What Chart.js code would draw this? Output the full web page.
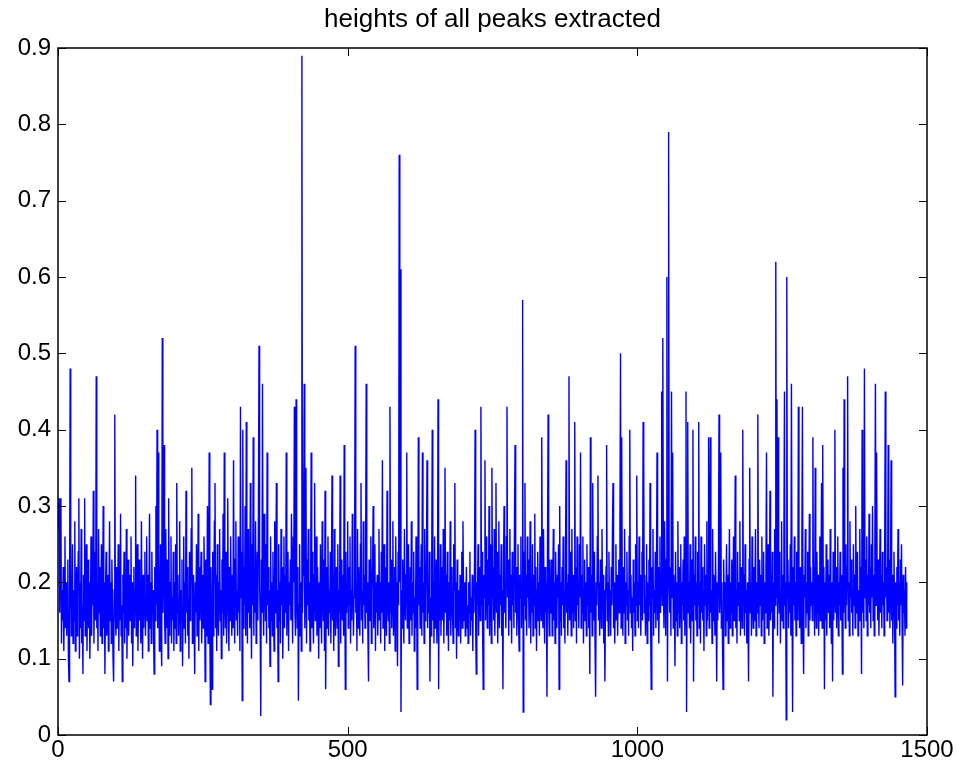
<!DOCTYPE html>
<html>
<head>
<meta charset="utf-8">
<title>heights of all peaks extracted</title>
<script src="https://cdn.jsdelivr.net/npm/chart.js@4.4.1/dist/chart.umd.min.js"></script>
<style>
    body { margin: 0; background: #fff; }
    canvas { display: block; }
</style>
</head>
<body>
<canvas id="peakChart" width="957" height="769"></canvas>
<script>
// peak heights in order (sample 1 .. 1465)
const heights = [
    .27,.31,.16,.24,.31,.12,.19,.15,.22,.11, .17,.26,.14,.2,.13,.18,.23,.1,.07,.16,
    .48,.21,.13,.17,.25,.12,.19,.15,.28,.11, .16,.22,.13,.18,.24,.31,.1,.2,.14,.27,
    .12,.17,.08,.21,.15,.31,.13,.19,.25,.11,
    .18,.23,.14,.2,.1,.16,.26,.13,.21,.17, .32,.12,.19,.24,.15,.47,.14,.2,.11,.27,
    .16,.22,.13,.18,.25,.12,.17,.3,.14,.2, .08,.19,.24,.13,.16,.21,.11,.18,.28,.15,
    .2,.12,.23,.17,.1,.07,.19,.42,.16,.13,
    .22,.14,.18,.25,.11,.2,.15,.29,.13,.17, .07,.21,.16,.24,.12,.19,.14,.27,.1,.18,
    .23,.13,.17,.21,.15,.26,.12,.2,.09,.16, .22,.14,.19,.34,.13,.18,.25,.11,.17,.23,
    .15,.2,.12,.28,.16,.1,.21,.14,.19,.24,
    .13,.18,.26,.15,.21,.11,.17,.29,.14,.2, .12,.24,.16,.19,.13,.08,.22,.15,.3,.17,
    .40,.14,.37,.2,.11,.18,.25,.13,.09,.52, .16,.21,.38,.15,.12,.27,.19,.14,.23,.1,
    .31,.17,.13,.2,.26,.12,.18,.15,.24,.11,
    .2,.14,.25,.12,.33,.16,.21,.13,.18,.28, .11,.19,.15,.23,.09,.17,.26,.14,.2,.12,
    .32,.16,.22,.13,.18,.1,.24,.15,.19,.27, .35,.12,.17,.21,.14,.08,.2,.16,.25,.13,
    .18,.29,.11,.22,.15,.19,.24,.12,.17,.21,
    .14,.26,.19,.07,.23,.13,.18,.3,.12,.2, .37,.16,.04,.22,.15,.06,.24,.13,.19,.28,
    .33,.14,.21,.11,.25,.17,.13,.2,.27,.15, .19,.1,.23,.16,.29,.13,.37,.18,.14,.24,
    .12,.2,.31,.16,.11,.22,.15,.26,.18,.13,
    .21,.14,.36,.17,.12,.23,.28,.15,.19,.13, .26,.16,.2,.11,.43,.18,.24,.045,.4,.14,
    .22,.17,.3,.13,.41,.19,.12,.27,.16,.21, .14,.33,.2,.1,.25,.17,.39,.13,.22,.16,
    .28,.12,.19,.24,.15,.3,.51,.2,.14,.025,
    .23,.16,.46,.18,.13,.29,.21,.15,.25,.12, .37,.17,.22,.14,.19,.09,.26,.15,.2,.13,
    .24,.18,.11,.28,.16,.21,.33,.14,.19,.07, .25,.15,.2,.12,.27,.17,.22,.1,.18,.26,
    .14,.21,.16,.37,.13,.19,.24,.11,.2,.17,
    .23,.15,.29,.18,.12,.26,.2,.43,.16,.13, .44,.19,.14,.22,.045,.17,.25,.13,.2,.11,
    .89,.16,.21,.29,.46,.14,.19,.35,.12,.23, .17,.27,.15,.2,.11,.18,.37,.14,.24,.16,
    .12,.21,.33,.15,.19,.26,.13,.22,.17,.1,
    .2,.14,.25,.17,.12,.28,.19,.15,.23,.11, .32,.06,.18,.22,.14,.26,.13,.19,.16,.24,
    .12,.2,.34,.15,.21,.11,.27,.17,.13,.22, .18,.14,.25,.09,.19,.16,.34,.12,.23,.17,
    .15,.21,.13,.38,.2,.06,.24,.16,.19,.28,
    .14,.22,.17,.26,.12,.19,.15,.29,.21,.13, .18,.24,.51,.16,.2,.11,.27,.14,.22,.17,
    .13,.25,.33,.15,.19,.12,.28,.17,.21,.14, .24,.46,.16,.2,.13,.07,.23,.18,.15,.26,
    .12,.19,.22,.3,.14,.17,.25,.11,.2,.16,
    .21,.13,.18,.27,.15,.2,.12,.24,.16,.36, .14,.19,.25,.11,.22,.17,.13,.32,.18,.15,
    .2,.12,.43,.16,.23,.14,.19,.28,.13,.17, .22,.11,.26,.15,.2,.09,.24,.17,.76,.2,
    .61,.03,.19,.14,.23,.16,.12,.27,.18,.15,
    .21,.37,.14,.19,.25,.12,.17,.22,.15,.28, .13,.2,.16,.24,.11,.18,.14,.26,.2,.06,
    .12,.39,.17,.22,.14,.19,.25,.13,.37,.16, .2,.12,.27,.15,.18,.23,.36,.14,.19,.16,
    .24,.07,.18,.13,.21,.4,.15,.2,.12,.26,
    .14,.19,.23,.12,.17,.44,.06,.2,.15,.25, .13,.18,.22,.15,.27,.12,.19,.35,.16,.21,
    .13,.24,.17,.11,.2,.15,.28,.13,.18,.22, .16,.12,.25,.19,.33,.14,.2,.1,.23,.16,
    .13,.19,.15,.21,.12,.17,.24,.14,.28,.18,
    .15,.2,.13,.18,.22,.14,.17,.12,.2,.16, .24,.13,.18,.15,.21,.11,.19,.16,.23,.4,
    .14,.08,.2,.17,.25,.13,.19,.22,.15,.43, .17,.24,.13,.06,.21,.18,.36,.15,.26,.2,
    .14,.23,.17,.3,.13,.19,.25,.12,.35,.18,
    .22,.15,.27,.13,.2,.33,.16,.24,.12,.19, .28,.14,.21,.17,.25,.13,.19,.06,.22,.3,
    .16,.2,.14,.26,.43,.18,.23,.13,.19,.27, .15,.21,.12,.24,.17,.2,.14,.29,.38,.16,
    .22,.13,.19,.25,.15,.11,.21,.18,.26,.14,
    .2,.57,.03,.24,.17,.33,.15,.21,.13,.26, .18,.23,.14,.19,.28,.12,.2,.16,.25,.13,
    .21,.17,.29,.14,.22,.11,.19,.24,.15,.2, .13,.26,.18,.15,.39,.21,.14,.27,.17,.12,
    .22,.16,.2,.05,.25,.42,.17,.13,.23,.19,
    .16,.23,.13,.19,.27,.15,.2,.12,.24,.17, .14,.21,.18,.25,.06,.3,.15,.2,.13,.22,
    .17,.26,.14,.19,.12,.23,.36,.16,.2,.13, .21,.47,.15,.24,.18,.13,.27,.16,.21,.14,
    .19,.41,.15,.22,.12,.26,.17,.2,.14,.25,
    .18,.37,.14,.21,.16,.26,.12,.19,.23,.15, .2,.13,.25,.17,.22,.14,.19,.08,.39,.16,
    .21,.13,.33,.18,.15,.24,.12,.05,.2,.17, .26,.34,.15,.2,.13,.23,.18,.14,.27,.16,
    .21,.12,.19,.07,.17,.22,.38,.15,.2,.13,
    .24,.16,.19,.13,.22,.17,.26,.33,.14,.2, .12,.18,.25,.15,.21,.13,.19,.23,.16,.28,
    .5,.14,.39,.18,.13,.22,.16,.27,.12,.2, .17,.24,.15,.19,.13,.26,.4,.16,.21,.14,
    .18,.11,.23,.16,.2,.13,.25,.17,.34,.15,
    .2,.14,.26,.17,.21,.13,.19,.24,.15,.41, .36,.16,.21,.13,.18,.25,.12,.2,.15,.23,
    .17,.33,.14,.06,.22,.18,.27,.13,.19,.16, .24,.14,.2,.37,.15,.22,.12,.18,.26,.16,
    .21,.45,.17,.52,.19,.14,.28,.2,.13,.23,
    .6,.07,.25,.79,.2,.16,.22,.13,.45,.18, .37,.14,.21,.17,.09,.24,.15,.2,.13,.28,
    .16,.22,.14,.19,.25,.12,.2,.17,.23,.15, .26,.13,.19,.45,.03,.22,.41,.16,.2,.14,
    .25,.12,.18,.23,.15,.4,.07,.21,.17,.26,
    .15,.2,.13,.24,.17,.41,.14,.2,.12,.26, .16,.22,.15,.19,.11,.25,.17,.21,.13,.28,
    .15,.2,.39,.14,.23,.39,.16,.19,.12,.27, .15,.21,.18,.13,.24,.17,.07,.2,.15,.22,
    .42,.16,.19,.37,.14,.2,.12,.06,.23,.17,
    .2,.13,.18,.25,.15,.21,.12,.19,.27,.14, .2,.16,.23,.13,.18,.26,.15,.21,.34,.14,
    .19,.12,.24,.17,.2,.15,.28,.13,.22,.18, .14,.4,.17,.21,.13,.25,.16,.19,.12,.2,
    .15,.07,.23,.35,.16,.2,.13,.26,.18,.14,
    .22,.15,.19,.27,.13,.2,.16,.42,.18,.14, .23,.17,.21,.13,.26,.15,.19,.24,.12,.2,
    .16,.22,.37,.14,.19,.25,.13,.18,.32,.15, .21,.16,.24,.05,.2,.14,.27,.17,.62,.18,
    .44,.13,.39,.2,.16,.24,.12,.19,.28,.15,
    .21,.14,.26,.45,.17,.2,.02,.6,.18,.23, .14,.2,.16,.25,.13,.46,.19,.03,.22,.17,
    .26,.15,.2,.13,.24,.18,.15,.43,.2,.14, .22,.17,.12,.25,.43,.16,.08,.21,.18,.27,
    .14,.2,.16,.24,.13,.19,.29,.15,.22,.17,
    .2,.15,.39,.17,.22,.13,.35,.18,.14,.24, .16,.21,.13,.19,.26,.15,.2,.33,.14,.38,
    .17,.22,.06,.2,.15,.25,.13,.19,.23,.16, .21,.14,.27,.17,.12,.2,.07,.24,.15,.19,
    .4,.16,.22,.14,.19,.26,.13,.2,.17,.24,
    .15,.21,.18,.08,.35,.16,.44,.2,.14,.25, .17,.22,.47,.15,.2,.13,.28,.18,.23,.16,
    .19,.13,.25,.17,.21,.14,.3,.16,.2,.24, .13,.19,.15,.27,.17,.22,.08,.4,.16,.2,
    .14,.48,.18,.23,.15,.26,.13,.21,.17,.29,
    .16,.22,.14,.25,.18,.3,.15,.21,.13,.24, .46,.17,.37,.2,.15,.23,.13,.19,.27,.16,
    .21,.14,.24,.17,.2,.13,.25,.45,.18,.22, .15,.19,.38,.16,.23,.14,.2,.36,.15,.21,
    .12,.18,.24,.16,.05,.2,.14,.22,.17,.27,
    .15,.2,.13,.23,.17,.25,.14,.065,.21,.16,.19,.13,.22,.14,.2
];

const xTicks = [0, 500, 1000, 1500];
const yTicks = [0, 0.1, 0.2, 0.3, 0.4, 0.5, 0.6, 0.7, 0.8, 0.9];
const chartTitle = 'heights of all peaks extracted';
const fontFamily = 'Liberation Sans, Arial, sans-serif';

// MATLAB style: box round the axes, ticks pointing inwards on all four sides,
// title centred over the axes rather than the whole canvas
const matlabAxes = {
    id: 'matlabAxes',
    afterDraw(chart) {
        const { ctx, chartArea: a, scales } = chart;
        const len = 8;
        ctx.save();
        ctx.strokeStyle = '#000';
        ctx.lineWidth = 1.5;
        ctx.strokeRect(a.left, a.top, a.right - a.left, a.bottom - a.top);
        ctx.lineWidth = 1;
        ctx.beginPath();
        yTicks.forEach(v => {
            const y = Math.round(scales.y.getPixelForValue(v)) + 0.5;
            ctx.moveTo(a.left, y); ctx.lineTo(a.left + len, y);
            ctx.moveTo(a.right, y); ctx.lineTo(a.right - len, y);
        });
        xTicks.forEach(v => {
            const x = Math.round(scales.x.getPixelForValue(v)) + 0.5;
            ctx.moveTo(x, a.bottom); ctx.lineTo(x, a.bottom - len);
            ctx.moveTo(x, a.top); ctx.lineTo(x, a.top + len);
        });
        ctx.stroke();

        ctx.fillStyle = '#000';
        ctx.font = '26px ' + fontFamily;
        ctx.textAlign = 'center';
        ctx.textBaseline = 'middle';
        ctx.fillText(chartTitle, (a.left + a.right) / 2, 20);
        ctx.restore();
    }
};

const points = heights.map((h, i) => ({ x: i + 1, y: h }));

new Chart(document.getElementById('peakChart'), {
    type: 'line',
    data: {
        datasets: [{
            data: points,
            borderColor: '#0000ff',
            borderWidth: 1.4,
            pointRadius: 0,
            fill: false,
            tension: 0
        }]
    },
    options: {
        responsive: false,
        animation: false,
        events: [],
        layout: { padding: { left: 0, right: 30, top: 48, bottom: 0 } },
        plugins: {
            legend: { display: false },
            tooltip: { enabled: false },
            title: { display: false }
        },
        scales: {
            x: {
                type: 'linear',
                min: 0,
                max: 1500,
                grid: { display: false, drawTicks: false },
                border: { display: false },
                afterBuildTicks: s => { s.ticks = xTicks.map(v => ({ value: v })); },
                afterFit: s => { s.height = 34; },
                ticks: {
                    color: '#000',
                    padding: 1,
                    maxRotation: 0,
                    font: { family: fontFamily, size: 24 },
                    callback: v => String(v)
                }
            },
            y: {
                type: 'linear',
                min: 0,
                max: 0.9,
                grid: { display: false, drawTicks: false },
                border: { display: false },
                afterBuildTicks: s => { s.ticks = yTicks.map(v => ({ value: v })); },
                afterFit: s => { s.width = 58; },
                ticks: {
                    color: '#000',
                    padding: 7,
                    font: { family: fontFamily, size: 24 },
                    callback: v => (v === 0 ? '0' : v.toFixed(1))
                }
            }
        }
    },
    plugins: [matlabAxes]
});
</script>
</body>
</html>
